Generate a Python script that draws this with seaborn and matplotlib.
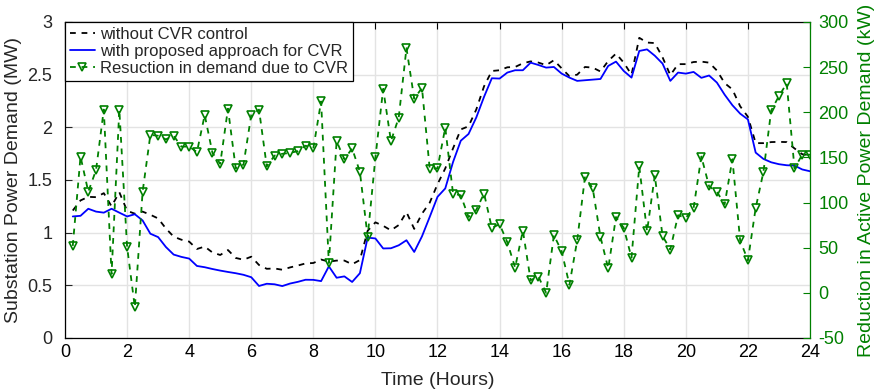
import matplotlib
matplotlib.use("Agg")
import matplotlib.pyplot as plt
import seaborn as sns
import pandas as pd
from matplotlib.lines import Line2D

# ---------------- data ----------------
hours = [i * 0.25 for i in range(1, 97)]

without_cvr = [
    1.210, 1.306, 1.340, 1.337, 1.375, 1.250, 1.384, 1.208,
    1.180, 1.200, 1.170, 1.135, 1.040, 0.962, 0.933, 0.915,
    0.845, 0.868, 0.812, 0.788, 0.835, 0.760, 0.743, 0.772,
    0.693, 0.657, 0.660, 0.648, 0.670, 0.688, 0.708, 0.712,
    0.745, 0.725, 0.735, 0.735, 0.700, 0.740, 1.018, 1.098,
    1.065, 1.022, 1.072, 1.195, 1.036, 1.180, 1.285, 1.460,
    1.610, 1.800, 1.980, 2.010, 2.170, 2.390, 2.535, 2.542,
    2.570, 2.573, 2.608, 2.626, 2.615, 2.590, 2.637, 2.560,
    2.485, 2.500, 2.573, 2.567, 2.530, 2.630, 2.700, 2.614,
    2.500, 2.850, 2.805, 2.800, 2.665, 2.495, 2.600, 2.600,
    2.620, 2.624, 2.614, 2.540, 2.420, 2.360, 2.200, 2.100,
    1.850, 1.850, 1.860, 1.862, 1.860, 1.800, 1.745, 1.730,
]

with_cvr = [
    1.154, 1.160, 1.227, 1.200, 1.190, 1.227, 1.190, 1.154,
    1.175, 1.116, 0.990, 0.958, 0.864, 0.792, 0.770, 0.754,
    0.684, 0.672, 0.655, 0.640, 0.627, 0.615, 0.600, 0.577,
    0.494, 0.515, 0.510, 0.493, 0.517, 0.533, 0.553, 0.552,
    0.540, 0.680, 0.572, 0.585, 0.532, 0.615, 0.953, 0.945,
    0.850, 0.852, 0.880, 0.928, 0.817, 0.965, 1.150, 1.340,
    1.420, 1.670, 1.873, 1.937, 2.094, 2.290, 2.466, 2.463,
    2.520, 2.542, 2.542, 2.614, 2.592, 2.567, 2.573, 2.510,
    2.472, 2.441, 2.447, 2.453, 2.459, 2.583, 2.624, 2.535,
    2.472, 2.725, 2.740, 2.680, 2.605, 2.441, 2.520, 2.510,
    2.526, 2.470, 2.492, 2.425, 2.310, 2.210, 2.130, 2.075,
    1.760, 1.700, 1.668, 1.650, 1.640, 1.637, 1.600, 1.583,
]

reduction_kw = [
    52, 151, 112, 136, 203, 21, 203, 51,
    -16, 112, 175, 174, 170, 174, 162, 162,
    156, 197, 155, 143, 204, 138, 142, 197,
    203, 140, 152, 154, 155, 157, 163, 160,
    212, 33, 168, 148, 160, 134, 62, 150,
    226, 168, 194, 271, 215, 227, 137, 138,
    183, 110, 108, 84, 92, 110, 72, 76,
    56, 28, 69, 14, 18, 0, 64, 46,
    9, 58, 128, 116, 62, 27, 84, 72,
    39, 140, 68, 130, 63, 48, 86, 83,
    94, 151, 118, 112, 98, 148, 58, 36,
    94, 134, 202, 218, 232, 138, 153, 153,
]

labels = ["without CVR control",
          "with proposed approach for CVR",
          "Resuction in demand due to CVR"]

x_ticks = [0, 2, 4, 6, 8, 10, 12, 14, 16, 18, 20, 22, 24]
left_ticks = [0, 0.5, 1, 1.5, 2, 2.5, 3]
right_ticks = [-50, 0, 50, 100, 150, 200, 250, 300]

df = pd.DataFrame({"hours": hours, "without": without_cvr,
                   "with": with_cvr, "reduction": reduction_kw})

# ---------------- style ----------------
sns.set_style("white")
plt.rcParams["font.family"] = ["Liberation Sans", "DejaVu Sans"]

GREEN = "#008000"
W, H = 878, 391
fig = plt.figure(figsize=(W / 100, H / 100), dpi=100)
ax = fig.add_axes([65 / W, 1 - 338 / H, 745 / W, 316 / H])
ax2 = ax.twinx()

DASH = (0, (3.2, 3.2))
sns.lineplot(data=df, x="hours", y="without", ax=ax, color="black",
             linestyle=DASH, linewidth=1.3, legend=False)
sns.lineplot(data=df, x="hours", y="with", ax=ax, color="#0000ff",
             linewidth=1.3, legend=False)
sns.lineplot(data=df, x="hours", y="reduction", ax=ax2, color=GREEN,
             linestyle=DASH, linewidth=1.3, marker="v",
             markersize=6.2, markerfacecolor="none",
             markeredgecolor=GREEN, markeredgewidth=1.2, legend=False)

ax.set_xlim(0, 24)
ax.set_ylim(0, 3)
ax2.set_ylim(-50, 300)
ax.set_xticks(x_ticks)
ax.set_xticklabels([str(t) for t in x_ticks])
ax.set_yticks(left_ticks)
ax.set_yticklabels(["0", "0.5", "1", "1.5", "2", "2.5", "3"])
ax2.set_yticks(right_ticks)
ax2.set_yticklabels([str(t) for t in right_ticks])

ax.grid(True, color="#e3e3e3", linewidth=1.0)
ax.set_axisbelow(True)

ax.tick_params(axis="x", direction="in", length=5, width=0.8, top=True,
               labelsize=13, pad=4, colors="black")
ax.tick_params(axis="y", direction="in", length=5, width=0.8, right=False,
               labelsize=13, pad=9)
ax2.tick_params(axis="y", direction="in", length=5, width=0.8,
                colors=GREEN, labelsize=13, pad=6)

for s in ["left", "bottom", "top"]:
    ax.spines[s].set_color("black")
    ax.spines[s].set_linewidth(0.9)
ax.spines["right"].set_visible(False)
for s in ["left", "bottom", "top"]:
    ax2.spines[s].set_visible(False)
ax2.spines["right"].set_color(GREEN)
ax2.spines["right"].set_linewidth(0.9)

ax.set_xlabel("Time (Hours)", fontsize=14, labelpad=8)
ax.set_ylabel("Substation Power Demand (MW)", fontsize=14, labelpad=4)
ax2.set_ylabel("Reduction in Active Power Demand (kW)", fontsize=14,
               color=GREEN, labelpad=7)

handles = [
    Line2D([], [], color="black", linestyle=DASH, linewidth=1.3),
    Line2D([], [], color="#0000ff", linewidth=1.3),
    Line2D([], [], color=GREEN, linestyle=DASH, linewidth=1.3,
           marker="v", markersize=6.2, markerfacecolor="none",
           markeredgecolor=GREEN, markeredgewidth=1.2),
]
leg = ax2.legend(handles, labels, loc="upper left", bbox_to_anchor=(0, 1),
                 borderaxespad=0, fontsize=12, frameon=True, fancybox=False,
                 framealpha=1, edgecolor="black", handlelength=1.5,
                 handletextpad=0.3, labelspacing=0.12, borderpad=0.3)
leg.get_frame().set_linewidth(0.9)

fig.savefig("out.png", dpi=100)
